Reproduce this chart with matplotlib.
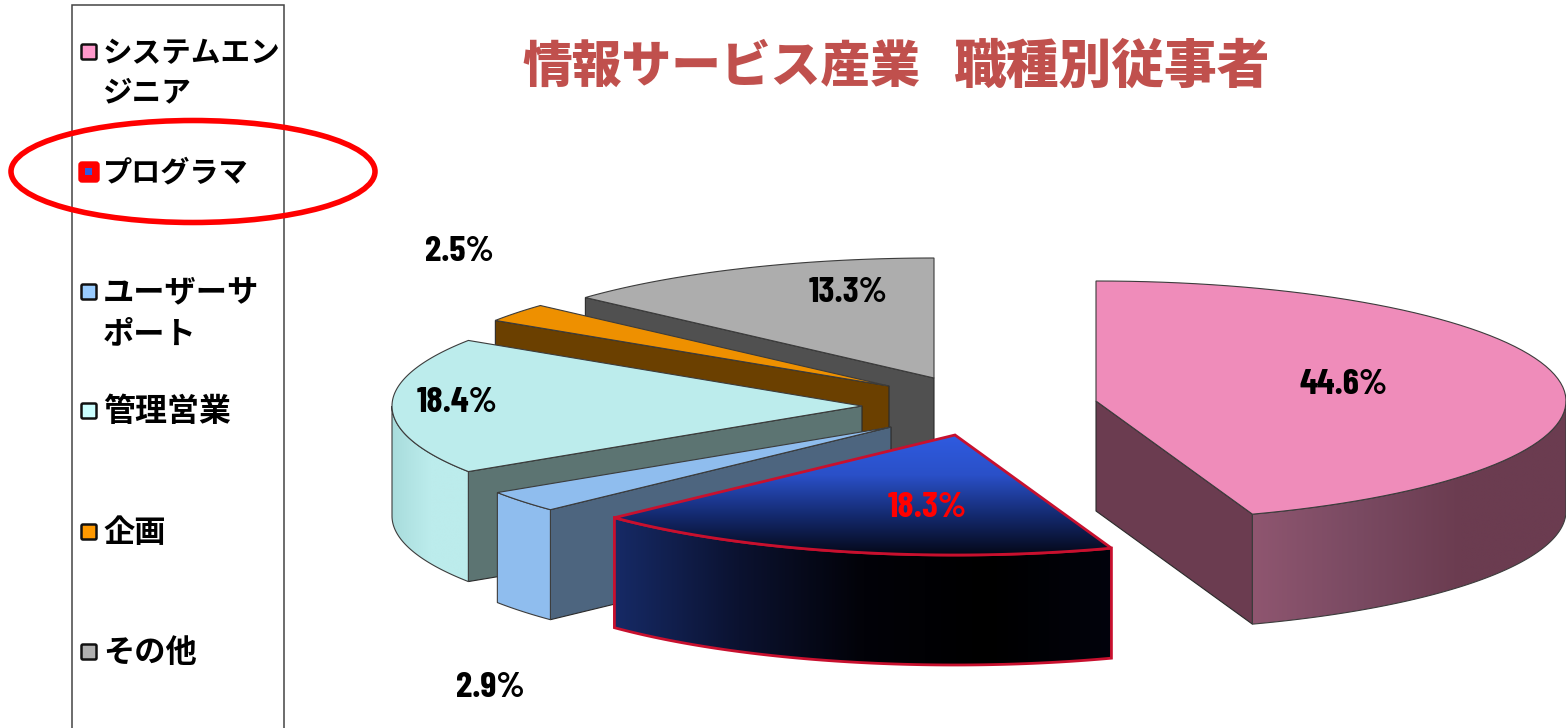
import matplotlib
matplotlib.use("Agg")
import matplotlib.pyplot as plt
import numpy as np
from matplotlib.colors import LinearSegmentedColormap
from matplotlib.patches import Ellipse, FancyBboxPatch, Polygon, Rectangle

# data, clockwise from 12 o'clock
shares = [44.6, 18.3, 2.9, 18.4, 2.5, 13.3]
legend_labels = ["システムエン\nジニア", "プログラマ", "ユーザーサ\nポート", "管理営業", "企画", "その他"]
title_left = "情報サービス産業"
title_right = "職種別従事者"

top_colors = ["#ef8cba", "#2f5be0", "#8fbdee", "#bcecec", "#ee9000", "#adadad"]
side_colors = ["#6b3c50", "#0a0f28", "#8fbdee", "#bcecec", "#6b4000", "#505050"]
face_colors = ["#6b3c50", "#0a0f28", "#4d657f", "#5c7472", "#6b4000", "#505050"]
swatch_colors = ["#ff99cc", "#2f5be0", "#99ccff", "#ccffff", "#ff9900", "#b0b0b0"]

# layout in pixels
centers = [(1096, 401), (955, 435), (891, 427), (862, 406), (889, 386), (934, 378)]
label_pos = [(1344, 385), (927, 508), (490, 688), (457, 403), (459, 252), (848, 293)]
legend_y = [52, 171, 292, 411, 532, 652]
legend_sizes = [21.3, 21, 22.5, 23, 22.5, 22.5]
RX, RY, DEPTH = 470, 120, 110

num_font = ["Barlow Condensed", "Liberation Sans"]
jp_font = ["Noto Sans CJK JP", "DejaVu Sans"]

fig = plt.figure(figsize=(15.66, 7.28), dpi=100)
ax = fig.add_axes([0, 0, 1, 1])


def rim(cx, cy, a0, a1, drop=0):
    t = np.radians(np.linspace(a0, a1, 80))
    return cx + RX * np.sin(t), cy - RY * np.cos(t) + drop


def gradient(xs, ys, stops, horizontal, zorder):
    cmap = LinearSegmentedColormap.from_list("g", stops)
    ramp = np.linspace(0, 1, 256)
    ramp = ramp[None, :] if horizontal else ramp[:, None]
    img = ax.imshow(
        ramp, cmap=cmap, aspect="auto", zorder=zorder, interpolation="bilinear",
        extent=(min(xs), max(xs), max(ys), min(ys)),
    )
    img.set_clip_path(Polygon(np.column_stack([xs, ys]), transform=ax.transData))


ends = np.cumsum(shares) * 3.6
starts = np.r_[0, ends[:-1]]

# painter's order: back slices first
for z, i in enumerate([5, 4, 3, 2, 1, 0]):
    cx, cy = centers[i]
    a0, a1 = starts[i], ends[i]
    is_blue = i == 1
    edge = "#c8102e" if is_blue else "#3c3c3c"
    lw = 2.0 if is_blue else 0.8
    zo = 2 + z

    # radial cut faces that look towards the viewer
    for a, visible in ((a0, np.sin(np.radians(a0)) < -1e-6), (a1, np.sin(np.radians(a1)) > 1e-6)):
        if visible:
            ex, ey = rim(cx, cy, a, a)
            ex, ey = ex[0], ey[0]
            ax.add_patch(Polygon(
                [(cx, cy), (ex, ey), (ex, ey + DEPTH), (cx, cy + DEPTH)],
                fc=face_colors[i], ec="#2a2a2a", lw=0.8, zorder=zo,
            ))

    # outer wall, front half only
    b0, b1 = max(a0, 90), min(a1, 270)
    if b1 > b0:
        xt, yt = rim(cx, cy, b0, b1)
        xb, yb = rim(cx, cy, b0, b1, DEPTH)
        xs = np.r_[xt, xb[::-1]]
        ys = np.r_[yt, yb[::-1]]
        if i == 0:
            gradient(xs, ys, ["#8f5670", "#7a4a62", "#6b3c50", "#6b3c50"], True, zo)
            ax.add_patch(Polygon(np.column_stack([xs, ys]), fc="none", ec=edge, lw=lw, zorder=zo))
        elif is_blue:
            gradient(xs, ys, ["#162a66", "#0b1230", "#020208", "#000000", "#02030c"], True, zo)
            ax.add_patch(Polygon(np.column_stack([xs, ys]), fc="none", ec=edge, lw=lw, zorder=zo))
        elif i == 3:
            gradient(xs, ys, ["#a8dcdc", "#bcecec", "#bcecec"], True, zo)
            ax.add_patch(Polygon(np.column_stack([xs, ys]), fc="none", ec=edge, lw=lw, zorder=zo))
        else:
            ax.add_patch(Polygon(np.column_stack([xs, ys]), fc=side_colors[i], ec=edge, lw=lw, zorder=zo))

    # top face
    xt, yt = rim(cx, cy, a0, a1)
    xs = np.r_[cx, xt]
    ys = np.r_[cy, yt]
    if is_blue:
        gradient(xs, ys, ["#2f5be0", "#2a50c8", "#142a70", "#050818"], False, zo)
        ax.add_patch(Polygon(np.column_stack([xs, ys]), fc="none", ec=edge, lw=lw, zorder=zo))
    else:
        ax.add_patch(Polygon(np.column_stack([xs, ys]), fc=top_colors[i], ec=edge, lw=lw, zorder=zo))

for i, v in enumerate(shares):
    ax.text(
        *label_pos[i], f"{v:.1f}%", ha="center", va="center", fontsize=26.5, fontweight="bold",
        family=num_font, color="#ff0000" if i == 1 else "black", zorder=20,
    )

# legend column
ax.add_patch(Rectangle((72, 5), 212, 730, fc="white", ec="#444444", lw=1.1, zorder=1))
for i, label in enumerate(legend_labels):
    y = legend_y[i]
    if i == 1:
        ax.add_patch(FancyBboxPatch((81, 164), 16, 16, boxstyle="round,pad=2,rounding_size=3",
                                    fc="#ff0000", ec="#ff0000", lw=1, zorder=3))
        ax.add_patch(Rectangle((85, 168), 7, 7, fc=swatch_colors[i], ec="none", zorder=4))
    else:
        ax.add_patch(FancyBboxPatch((82, y - 7), 14, 14, boxstyle="round,pad=0.5,rounding_size=1.5",
                                    fc=swatch_colors[i], ec="#111111", lw=1.8, zorder=3))
    ax.text(103, y + 1 + (20 if "\n" in label else 0), label, ha="left", va="center", fontsize=legend_sizes[i],
            fontweight="bold", family=jp_font, linespacing=1.4, zorder=4)

ax.add_patch(Ellipse((193, 171.5), 364, 102, fc="none", ec="#ff0000", lw=4, zorder=10))

ax.text(721, 67, title_left, ha="center", va="center", fontsize=35.8, fontweight=900,
        family=jp_font, color="#c0504d", zorder=5)
ax.text(1112.5, 67, title_right, ha="center", va="center", fontsize=38, fontweight=900,
        family=jp_font, color="#c0504d", zorder=5)

ax.set_xlim(0, 1566)
ax.set_ylim(728, 0)
ax.axis("off")
fig.savefig("out.png", dpi=100, facecolor="white")
